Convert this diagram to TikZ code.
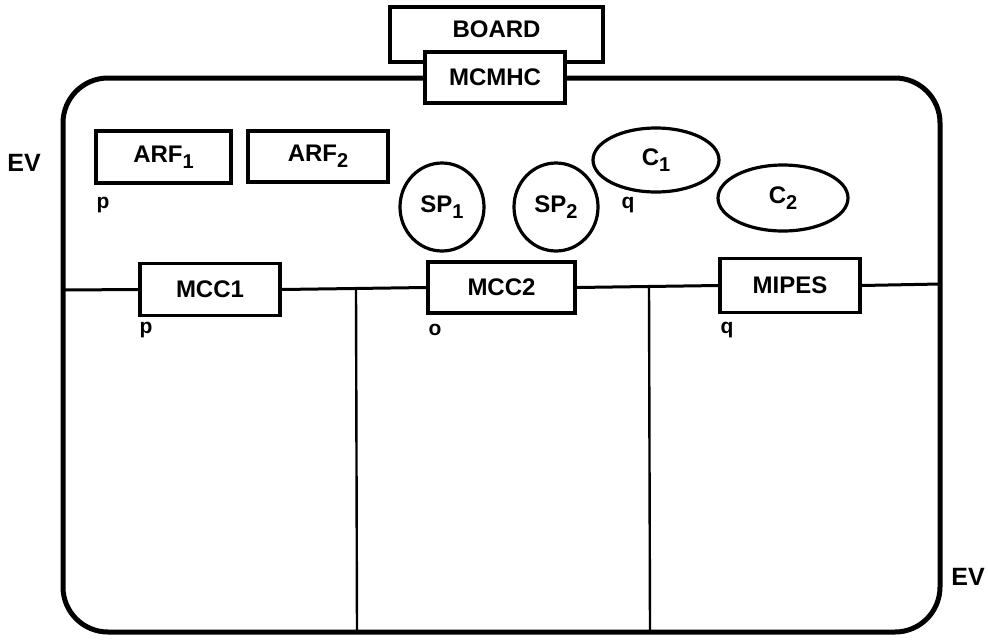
\documentclass[tikz,border=0pt]{standalone}
\usepackage{fontspec}
\setmainfont{Liberation Sans}
\usetikzlibrary{shapes.geometric}
\newcommand{\sbx}[1]{\raisebox{-6pt}{\fontsize{20}{20}\selectfont #1}}
\begin{document}
\begin{tikzpicture}[x=1pt,y=-1pt,
  boxnode/.style={draw, line width=3.2pt, fill=white, inner sep=0pt,
    font=\bfseries\fontsize{24}{24}\selectfont},
  roundnode/.style={draw, ellipse, line width=3.2pt, fill=white, inner sep=0pt,
    font=\bfseries\fontsize{24}{24}\selectfont},
  lbl/.style={font=\bfseries\fontsize{21}{21}\selectfont, inner sep=0pt},
  evlbl/.style={font=\bfseries\fontsize{25}{25}\selectfont, inner sep=0pt},
  frame/.style={line width=5pt, rounded corners=45pt},
  busline/.style={line width=3pt},
  wall/.style={line width=2.4pt}]
\useasboundingbox (0,0) rectangle (988,641);

% outer frame
\draw[frame] (63,78) rectangle (940,632);

% vertical partitions
\coordinate (v1t) at (356,289);
\coordinate (v1b) at (357,632);
\coordinate (v2t) at (649,286);
\coordinate (v2b) at (650,630);
\draw[wall] (v1t) -- (v1b);
\draw[wall] (v2t) -- (v2b);

% top boxes
\node[boxnode, minimum width=213pt, minimum height=55pt,
  label={[font=\bfseries\fontsize{24}{24}\selectfont, yshift=5pt]center:BOARD}]
  (board) at (496.5,34.5) {};
\node[boxnode, minimum width=140pt, minimum height=51pt] (mcmhc) at (495,77.5) {MCMHC};

% register files
\node[boxnode, minimum width=135pt, minimum height=52pt] (arf1) at (163.5,157) {ARF\sbx{1}};
\node[boxnode, minimum width=140pt, minimum height=51pt] (arf2) at (318,156.5) {ARF\sbx{2}};

% SP and C
\node[roundnode, minimum width=84pt, minimum height=88pt] (sp1) at (442,207) {SP\sbx{1}};
\node[roundnode, minimum width=84pt, minimum height=88pt] (sp2) at (556,207) {SP\sbx{2}};
\node[roundnode, minimum width=126pt, minimum height=64pt] (c1) at (656,160) {C\sbx{1}};
\node[roundnode, minimum width=130pt, minimum height=66pt] (c2) at (783,198) {C\sbx{2}};

% bus boxes
\node[boxnode, minimum width=140pt, minimum height=52pt] (mcc1) at (210,289.5) {MCC1};
\node[boxnode, minimum width=147pt, minimum height=51pt] (mcc2) at (501.5,287.5) {MCC2};
\node[boxnode, minimum width=140pt, minimum height=54pt] (mipes) at (790,285.5) {MIPES};

\coordinate (bl) at (63,290);
\coordinate (br) at (940,284);
\draw[busline] (bl) -- (mcc1.west);
\draw[busline] (mcc1.east) -- (mcc2.west);
\draw[busline] (mcc2.east) -- (mipes.west);
\draw[busline] (mipes.east) -- (br);

% small labels
\node[lbl] (lp1) at (103,205) {p};
\node[lbl] (lq1) at (628,205) {q};
\node[lbl] (lp2) at (146,330) {p};
\node[lbl] (lo) at (435,330) {o};
\node[lbl] (lq2) at (727,330) {q};

\node[evlbl] (ev1) at (24,163) {EV};
\node[evlbl] (ev2) at (968,577) {EV};
\end{tikzpicture}
\end{document}
